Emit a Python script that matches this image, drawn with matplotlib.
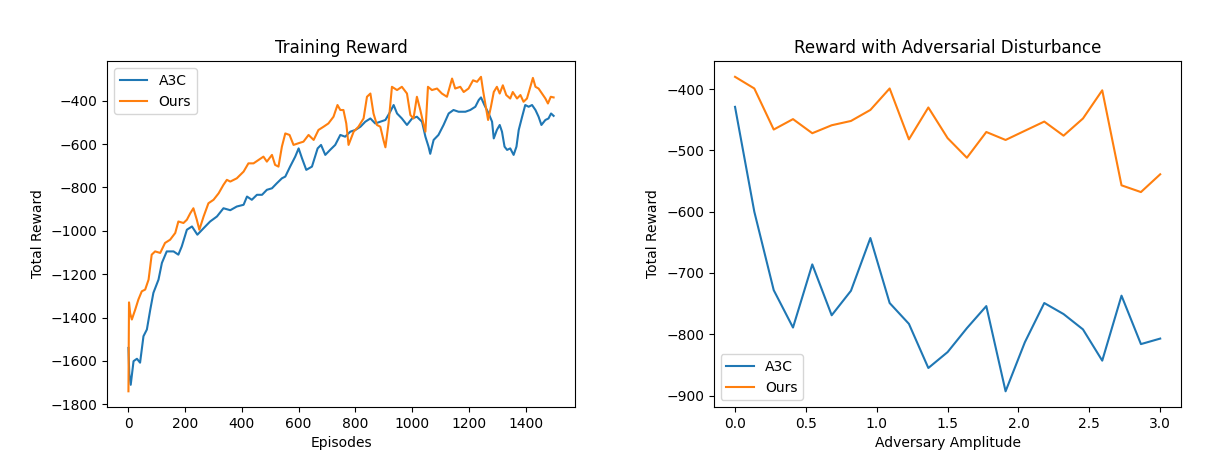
"""
Training reward curve and reward under adversarial disturbance (A3C vs Ours).
"""

import matplotlib
matplotlib.use('Agg')
import matplotlib.pyplot as plt

# --- Training reward ---
a3c_episodes = [0, 3, 8, 18, 30, 41, 53, 65, 77, 88, 106, 118, 135, 159, 176, 188,
                206, 224, 243, 265, 288, 312, 335, 359, 382, 406, 418, 435, 453, 471,
                488, 506, 523, 541, 553, 570, 588, 600, 612, 627, 647, 667, 679, 694,
                711, 729, 747, 764, 782, 800, 818, 835, 853, 870, 888, 906, 923, 935,
                947, 964, 982, 1000, 1017, 1035, 1047, 1058, 1064, 1076, 1093, 1111,
                1129, 1146, 1164, 1188, 1205, 1223, 1235, 1243, 1255, 1270, 1282, 1288,
                1299, 1309, 1317, 1326, 1335, 1346, 1358, 1368, 1376, 1388, 1399, 1411,
                1423, 1435, 1446, 1456, 1470, 1481, 1490, 1499]
a3c_train = [-1540, -1660, -1710, -1601, -1590, -1608, -1486, -1455, -1363, -1286,
             -1225, -1148, -1095, -1095, -1110, -1072, -995, -980, -1018, -988, -957,
             -934, -896, -905, -888, -880, -842, -857, -834, -834, -811, -804, -781,
             -758, -750, -704, -658, -620, -666, -719, -704, -620, -604, -650, -627,
             -604, -558, -566, -543, -535, -520, -497, -482, -505, -497, -489, -451,
             -420, -459, -482, -512, -482, -474, -497, -566, -612, -645, -581, -558,
             -512, -459, -443, -451, -451, -443, -428, -397, -385, -420, -459, -497,
             -574, -535, -512, -543, -612, -627, -620, -650, -612, -535, -474, -420,
             -428, -420, -443, -474, -512, -489, -482, -459, -470]

ours_episodes = [0, 2, 6, 12, 24, 35, 47, 59, 71, 82, 94, 112, 129, 147, 165, 176,
                 194, 206, 218, 229, 241, 250, 265, 282, 300, 318, 335, 347, 359, 382,
                 406, 423, 441, 459, 476, 488, 506, 517, 529, 541, 553, 568, 582, 600,
                 617, 635, 653, 670, 688, 705, 723, 737, 747, 758, 768, 776, 794, 811,
                 829, 841, 853, 864, 876, 888, 899, 906, 917, 929, 947, 964, 982, 994,
                 1005, 1017, 1029, 1041, 1047, 1056, 1070, 1088, 1105, 1123, 1141, 1152,
                 1170, 1182, 1199, 1215, 1229, 1243, 1250, 1258, 1268, 1278, 1288, 1299,
                 1309, 1320, 1332, 1346, 1355, 1370, 1382, 1393, 1405, 1417, 1426, 1435,
                 1446, 1458, 1470, 1479, 1489, 1499]
ours_train = [-1740, -1330, -1380, -1409, -1363, -1317, -1279, -1271, -1225, -1110,
              -1095, -1102, -1056, -1041, -1010, -957, -964, -949, -919, -896, -949,
              -995, -934, -873, -857, -827, -788, -765, -773, -758, -727, -689, -689,
              -673, -658, -681, -650, -696, -704, -612, -551, -558, -604, -596, -589,
              -558, -581, -535, -520, -505, -474, -420, -443, -443, -505, -604, -543,
              -520, -482, -382, -367, -459, -512, -520, -581, -615, -505, -336, -351,
              -336, -367, -466, -482, -382, -443, -512, -543, -336, -351, -344, -367,
              -382, -298, -344, -336, -360, -344, -306, -313, -290, -351, -413, -489,
              -428, -360, -336, -367, -329, -374, -390, -360, -390, -374, -405, -390,
              -336, -295, -336, -344, -367, -390, -413, -382, -385]

# --- Reward vs adversary amplitude ---
amplitude = [0.0, 0.136, 0.273, 0.409, 0.545, 0.682, 0.818, 0.955, 1.091, 1.227,
             1.364, 1.5, 1.636, 1.773, 1.909, 2.045, 2.182, 2.318, 2.455, 2.591,
             2.727, 2.864, 3.0]
a3c_adv = [-429, -600, -728, -789, -686, -769, -729, -643, -749, -783, -855, -829,
           -790, -754, -893, -813, -749, -767, -792, -843, -737, -816, -807]
ours_adv = [-380, -399, -466, -449, -472, -459, -452, -434, -399, -482, -430, -480,
            -512, -470, -483, -468, -453, -476, -448, -402, -557, -568, -539]


fig, (ax1, ax2) = plt.subplots(1, 2, figsize=(12.18, 4.7), dpi=100)
fig.subplots_adjust(left=0.088, right=0.970, bottom=0.134, top=0.870, wspace=0.297)

ax1.plot(a3c_episodes, a3c_train, label='A3C')
ax1.plot(ours_episodes, ours_train, label='Ours')
ax1.set_title('Training Reward')
ax1.set_xlabel('Episodes')
ax1.set_ylabel('Total Reward')
ax1.legend(loc='upper left')

ax2.plot(amplitude, a3c_adv, label='A3C')
ax2.plot(amplitude, ours_adv, label='Ours')
ax2.set_title('Reward with Adversarial Disturbance')
ax2.set_xlabel('Adversary Amplitude')
ax2.set_ylabel('Total Reward')
ax2.legend(loc='lower left')

plt.savefig('out.png', dpi=100)
plt.close()
